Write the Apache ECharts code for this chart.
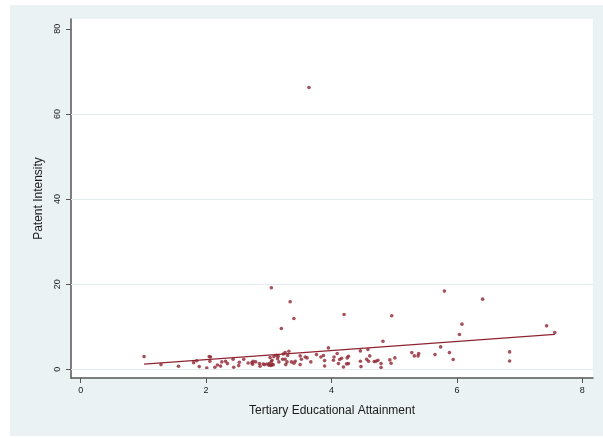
<!DOCTYPE html>
<html>
<head>
<meta charset="utf-8">
<script src="https://cdn.jsdelivr.net/npm/echarts@6/dist/echarts.min.js"></script>
<style>
  html, body { margin: 0; padding: 0; background: #ffffff; }
  #chart { width: 603px; height: 438px; }
</style>
</head>
<body>
<div id="chart"></div>
<script>
// Tertiary educational attainment (x) vs patent intensity (y), one point per observation
const eduX = [
  1.01, 1.28, 1.56, 1.80, 1.85, 1.89, 2.01, 2.05, 2.07, 2.06,
  2.14, 2.18, 2.23, 2.25, 2.31, 2.34, 2.43, 2.44, 2.52, 2.53,
  2.60, 2.67, 2.74, 2.75, 2.79, 2.85, 2.86, 2.93, 3.00, 3.01,
  3.02, 3.04, 3.05, 3.05, 3.04, 3.08, 3.12, 3.15, 3.16, 3.20,
  3.22, 3.26, 3.26, 3.27, 3.29, 3.30, 3.32, 3.34, 3.36, 3.40,
  3.40, 3.42, 3.50, 3.50, 3.52, 3.58, 3.61, 3.64, 3.67, 3.76,
  3.83, 3.87, 3.89, 3.89, 3.95, 4.03, 4.04, 4.09, 4.11, 4.13,
  4.16, 4.19, 4.20, 4.24, 4.27, 4.25, 4.27, 4.46, 4.46, 4.47,
  4.56, 4.58, 4.59, 4.61, 4.68, 4.71, 4.74, 4.79, 4.79, 4.82,
  4.93, 4.95, 4.96, 5.01, 5.28, 5.32, 5.38, 5.39, 5.65, 5.74,
  5.80, 5.88, 5.94, 6.04, 6.08, 6.41, 6.84, 6.84, 7.43, 7.56,
  2.73, 2.91, 2.97, 3.03, 3.07, 3.14, 3.23
];
const patentY = [
  2.98, 1.10, 0.71, 1.56, 2.00, 0.63, 0.30, 3.00, 2.90, 1.90,
  0.47, 1.00, 0.75, 1.73, 1.88, 1.33, 2.35, 0.47, 0.86, 1.65,
  2.35, 1.49, 1.18, 1.88, 1.73, 1.33, 0.71, 1.10, 0.94, 1.33,
  2.75, 1.73, 1.02, 2.12, 19.15, 2.98, 3.30, 3.06, 1.73, 9.58,
  2.35, 2.35, 3.92, 1.10, 1.73, 3.22, 4.24, 15.86, 1.73, 1.41,
  11.93, 1.88, 3.14, 1.10, 2.35, 2.90, 2.67, 66.2, 1.73, 3.45,
  2.90, 3.22, 2.04, 0.78, 5.02, 2.12, 2.90, 3.69, 1.33, 2.28,
  2.59, 0.55, 12.87, 1.26, 1.33, 2.67, 3.06, 4.32, 1.88, 0.63,
  2.35, 4.63, 1.88, 3.14, 1.80, 1.88, 2.12, 1.33, 0.39, 6.59,
  2.20, 1.41, 12.56, 2.67, 3.92, 3.14, 3.14, 3.69, 3.45, 5.26,
  18.37, 3.92, 2.28, 8.16, 10.60, 16.48, 4.08, 1.96, 10.20, 8.63,
  1.56, 1.25, 1.25, 0.90, 1.09, 2.50, 3.60
];

// Fitted values of the linear fit, at the ends of the data range
const fitX = [1.01, 7.56];
const fitY = [1.23, 8.20];

// Axis ticks
const xTicks = [0, 2, 4, 6, 8];
const yTicks = [0, 20, 40, 60, 80];
const yGridValues = [0, 20, 40, 60];

const points = eduX.map((x, i) => [x, patentY[i]]);
const fitLine = fitX.map((x, i) => [x, fitY[i]]);

const maroon = '#8e2431';
const axisGrey = '#555555';
const font = 'Liberation Sans, Arial, Helvetica, sans-serif';

const chart = echarts.init(document.getElementById('chart'), null, { renderer: 'canvas' });
chart.setOption({
  animation: false,
  backgroundColor: '#eaf2f3',
  graphic: [
    { type: 'rect', shape: { x: 0, y: 0, width: 10, height: 438 }, style: { fill: '#ffffff' }, silent: true },
    { type: 'rect', shape: { x: 0, y: 0, width: 603, height: 5 }, style: { fill: '#ffffff' }, silent: true },
    { type: 'rect', shape: { x: 0, y: 436, width: 603, height: 2 }, style: { fill: '#ffffff' }, silent: true }
  ],
  grid: {
    left: 71, right: 10, top: 19, bottom: 60,
    show: true, backgroundColor: '#ffffff', borderWidth: 0
  },
  xAxis: {
    type: 'value',
    min: -0.155, max: 8.17,
    name: 'Tertiary Educational Attainment',
    nameLocation: 'middle',
    nameGap: 27,
    nameTextStyle: { fontFamily: font, fontSize: 12, color: '#1a1a1a' },
    axisLine: { show: true, onZero: false, lineStyle: { color: axisGrey, width: 1.5 } },
    axisTick: { show: true, length: 5, customValues: xTicks, lineStyle: { color: axisGrey, width: 1 } },
    axisLabel: { customValues: xTicks, margin: 8, fontFamily: font, fontSize: 9, color: '#1a1a1a' },
    splitLine: { show: false }
  },
  yAxis: {
    type: 'value',
    min: -2.05, max: 82.3,
    name: 'Patent Intensity',
    nameLocation: 'middle',
    nameGap: 23,
    nameTextStyle: { fontFamily: font, fontSize: 12, color: '#1a1a1a' },
    axisLine: { show: true, onZero: false, lineStyle: { color: axisGrey, width: 1.5 } },
    axisTick: { show: true, length: 5, customValues: yTicks, lineStyle: { color: axisGrey, width: 1 } },
    axisLabel: { customValues: yTicks, rotate: 90, margin: 9, fontFamily: font, fontSize: 9, color: '#1a1a1a' },
    splitLine: { show: false }
  },
  series: [
    {
      // horizontal gridlines
      type: 'line',
      data: [],
      z: 1,
      silent: true,
      markLine: {
        silent: true,
        symbol: ['none', 'none'],
        label: { show: false },
        lineStyle: { color: '#e2ecee', width: 1, type: 'solid' },
        data: yGridValues.map(v => ({ yAxis: v }))
      }
    },
    {
      type: 'scatter',
      data: points,
      z: 3,
      symbol: 'circle',
      symbolSize: 3.6,
      itemStyle: { color: maroon }
    },
    {
      type: 'line',
      data: fitLine,
      z: 4,
      symbol: 'none',
      lineStyle: { color: maroon, width: 1.3 }
    }
  ]
});
</script>
</body>
</html>
